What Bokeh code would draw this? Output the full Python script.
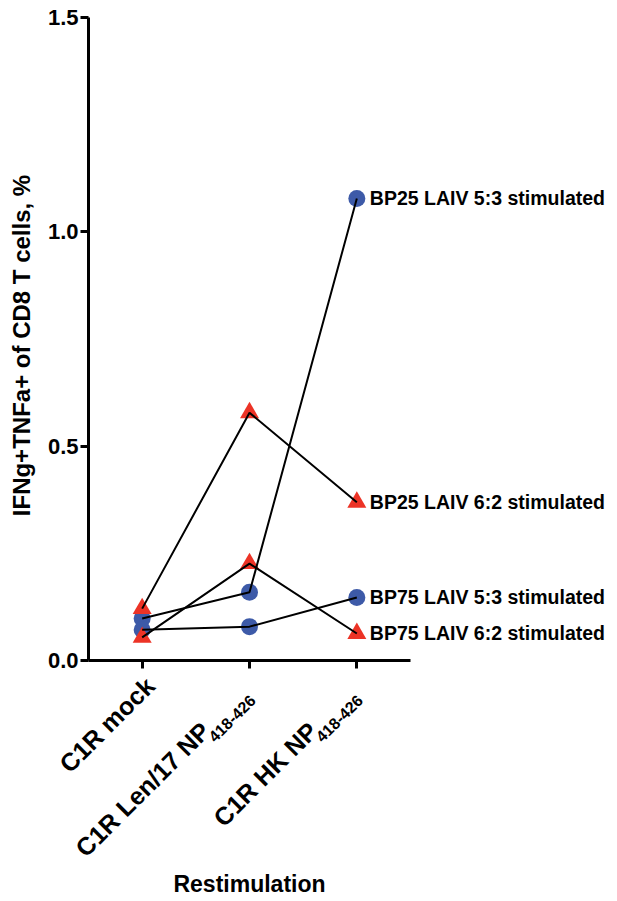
import math
from bokeh.plotting import figure
from bokeh.models import Label, FixedTicker, Range1d, PrintfTickFormatter
from bokeh.embed import file_html
from bokeh.resources import INLINE

# ---------------- data ----------------
categories = ["C1R mock", "C1R Len/17 NP 418-426", "C1R HK NP 418-426"]
tick_main = ["C1R mock", "C1R Len/17 NP", "C1R HK NP"]
tick_sub = ["", "418-426", "418-426"]

series_names = ["BP25 LAIV 5:3 stimulated", "BP25 LAIV 6:2 stimulated",
                "BP75 LAIV 5:3 stimulated", "BP75 LAIV 6:2 stimulated"]
series_markers = ["circle", "triangle", "circle", "triangle"]
bp25_53 = [0.098, 0.159, 1.078]
bp25_62 = [0.121, 0.578, 0.369]
bp75_53 = [0.072, 0.079, 0.147]
bp75_62 = [0.054, 0.226, 0.063]
series_values = [bp25_53, bp25_62, bp75_53, bp75_62]
y_ticks = [0.0, 0.5, 1.0, 1.5]
y_max = 1.5

y_label = "IFNg+TNFa+ of CD8 T cells, %"
x_label = "Restimulation"

# category positions on the x scale (one unit per category)
xs = [i + 0.5 for i in range(len(categories))]

# ---------------- layout / style ----------------
W, H = 612, 896
LEFT, TOP, ZERO_Y = 88, 17, 660      # y-axis pixel, y=1.5 pixel, y=0 pixel
X_AXIS_LEN = 322                      # length of drawn x axis in px
py_per_unit = (ZERO_Y - TOP) / y_max
px_per_cat = X_AXIS_LEN / len(categories)
y_start = -(H - ZERO_Y) / py_per_unit
y_end = y_max + TOP / py_per_unit
x_start = -LEFT / px_per_cat
x_end = (W - LEFT) / px_per_cat

FONT = "Liberation Sans"
BLUE = "#3D5AA8"
RED = "#EC3326"
marker_colors = {"circle": BLUE, "triangle": RED}
marker_sizes = {"circle": 17, "triangle": 19}

p = figure(width=W, height=H,
           x_range=Range1d(x_start, x_end),
           y_range=Range1d(y_start, y_end),
           output_backend="svg", toolbar_location=None,
           min_border_left=0, min_border_right=0,
           min_border_top=0, min_border_bottom=0)
p.outline_line_color = None
p.xgrid.grid_line_color = None
p.ygrid.grid_line_color = None
p.background_fill_color = "white"
p.border_fill_color = "white"

# y axis drawn at x = 0 inside the frame
p.yaxis.fixed_location = 0
p.yaxis.ticker = FixedTicker(ticks=y_ticks)
p.yaxis.bounds = (0, y_max)
p.yaxis.formatter = PrintfTickFormatter(format="%.1f")
p.yaxis.axis_line_width = 3
p.yaxis.major_tick_line_width = 3
p.yaxis.major_tick_in = 0
p.yaxis.major_tick_out = 8
p.yaxis.minor_tick_line_color = None
p.yaxis.major_label_text_font = FONT
p.yaxis.major_label_text_font_style = "bold"
p.yaxis.major_label_text_font_size = "22px"
p.yaxis.major_label_text_color = "black"
p.yaxis.major_label_standoff = 2

# x axis drawn at y = 0 inside the frame
p.xaxis.fixed_location = 0
p.xaxis.bounds = (0, len(categories))
p.xaxis.ticker = FixedTicker(ticks=xs)
p.xaxis.axis_line_width = 3
p.xaxis.major_tick_line_width = 3
p.xaxis.major_tick_in = 0
p.xaxis.major_tick_out = 8
p.xaxis.minor_tick_line_color = None
p.xaxis.major_label_text_font_size = "0px"
p.xaxis.major_label_text_color = None

# markers then connecting lines
for vals, mk in zip(series_values, series_markers):
    p.scatter(x=xs, y=vals, marker=mk, size=marker_sizes[mk],
              fill_color=marker_colors[mk], line_color=None)
for vals in series_values:
    p.line(x=xs, y=vals, line_color="black", line_width=2)

# series labels at right
for name, vals in zip(series_names, series_values):
    p.add_layout(Label(x=xs[-1], y=vals[-1], text=name,
                       x_offset=13, y_offset=0, text_align="left",
                       text_baseline="middle", text_font=FONT,
                       text_font_style="bold", text_font_size="19.5px",
                       text_color="black"))

# rotated category tick labels (main text + subscript)
main_dx = [8, -44, -44]
main_dy = [-21, -66, -66]
sub_dx = [3, 3, 3]
sub_dy = [-37, -37, -37]
for i, xv in enumerate(xs):
    p.add_layout(Label(x=xv, y=0.0, text=tick_main[i],
                       x_offset=main_dx[i], y_offset=main_dy[i],
                       angle=math.pi / 4, text_align="right",
                       text_baseline="middle", text_font=FONT,
                       text_font_style="bold", text_font_size="25px",
                       text_color="black"))
    if tick_sub[i]:
        p.add_layout(Label(x=xv, y=0.0, text=tick_sub[i],
                           x_offset=sub_dx[i], y_offset=sub_dy[i],
                           angle=math.pi / 4, text_align="right",
                           text_baseline="middle", text_font=FONT,
                           text_font_style="bold", text_font_size="16px",
                           text_color="black"))

# axis titles
p.add_layout(Label(x=len(categories) / 2, y=0.0, text=x_label,
                   y_offset=-223, text_align="center", text_baseline="middle",
                   text_font=FONT, text_font_style="bold",
                   text_font_size="23px", text_color="black"))
p.add_layout(Label(x=0.0, y=(ZERO_Y - 345) / py_per_unit, text=y_label,
                   x_offset=-67, angle=math.pi / 2,
                   text_align="center", text_baseline="middle",
                   text_font=FONT, text_font_style="bold",
                   text_font_size="24px", text_color="black"))

open("out.html", "w").write(file_html(p, INLINE))
